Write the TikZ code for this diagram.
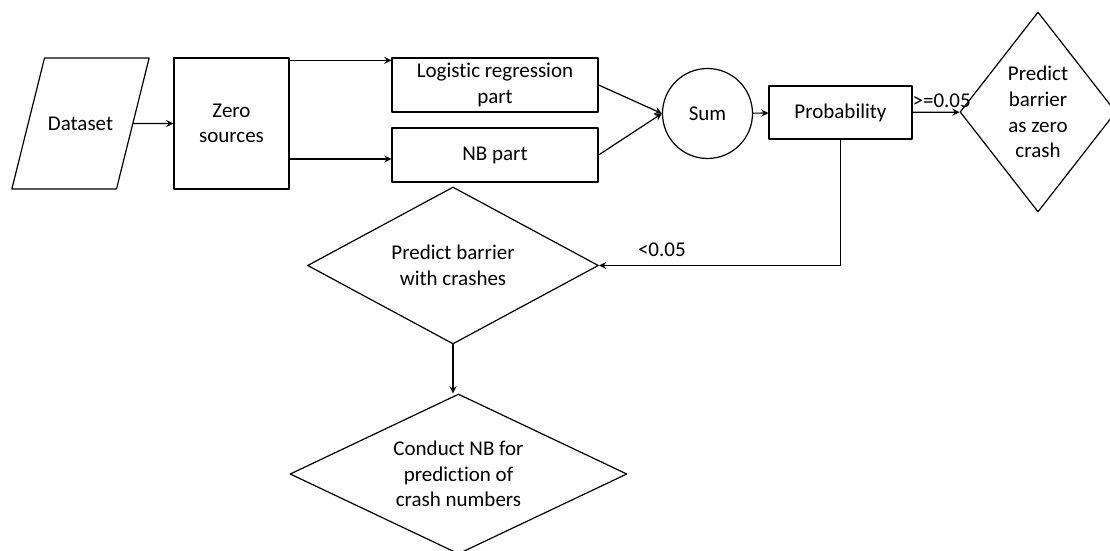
\documentclass[tikz,border=0pt]{standalone}
\usepackage{fontspec}
\setmainfont[Ligatures=NoCommon]{Carlito}
\usepackage{tikz}
\usetikzlibrary{shapes.geometric, arrows}
\tikzstyle{arrow} = [->,>=stealth]
\tikzstyle{box} = [rectangle, draw, inner sep=0pt, align=center]
\tikzstyle{decision} = [diamond, draw, inner sep=0pt, align=center]

\begin{document}
\begin{tikzpicture}[line cap=round,line join=round,x=0.5pt,y=-0.5pt,line width=0.6pt,font=\fontsize{10.5}{12.8}\selectfont]
                \useasboundingbox (0,0) rectangle (1110,551);
                \node[trapezium, draw, trapezium left angle=76, trapezium right angle=104, text width=34pt, text height=7pt, text depth=0pt, align=center, inner xsep=1pt, inner ysep=29.25pt] (data) at (80.5,123.5) {Dataset};
                \node[box, minimum width=57.5pt, minimum height=65.5pt] (zero) at (231.5,123.5) {Zero\\sources};
                \node[box, minimum width=103pt, minimum height=27pt] (logit) at (495,85) {Logistic regression\\part};
                \node[box, minimum width=103pt, minimum height=27pt] (nb) at (495,155) {NB part};
                \node[circle, draw, minimum size=45pt, inner sep=0pt] (sum) at (707.5,113.5) {Sum};
                \node[box, minimum width=71.5pt, minimum height=26.5pt] (prob) at (840.5,112.5) {Probability};
                \node[decision, aspect=0.78, minimum width=78pt, minimum height=100pt] (zcrash) at (1038,112) {Predict\\barrier\\as zero\\crash};
                \node[decision, aspect=1.85, minimum width=145.5pt, minimum height=78.5pt] (wcrash) at (453,265.5) {Predict barrier\\with crashes};
                \node[decision, aspect=2.1, minimum width=168.5pt, minimum height=80pt] (conduct) at (458.5,474) {Conduct NB for\\prediction of\\crash numbers};
                \coordinate (nbin) at ([yshift=-2pt]nb.west);
                \draw [arrow] (data) -- (zero);
                \draw [arrow] ([yshift=-1.5pt]zero.north east) -- ([yshift=-1.5pt]zero.north east -| logit.west);
                \draw [arrow] (zero.east |- nbin) -- (nbin);
                \draw [arrow] (logit.east) -- (sum.west);
                \draw [arrow] (nb.east) -- (sum.west);
                \draw [arrow] (sum) -- (prob);
                \draw [arrow] (prob) -- (zcrash) node[pos=0.62, above, inner sep=2pt] {>=0.05};
                \draw [arrow] (prob.south) |- (wcrash.east) node[pos=0.87, above, inner sep=4pt] {<0.05};
                \draw [arrow] (wcrash.south) -- (wcrash.south |- conduct.north);
            \end{tikzpicture}
\end{document}
